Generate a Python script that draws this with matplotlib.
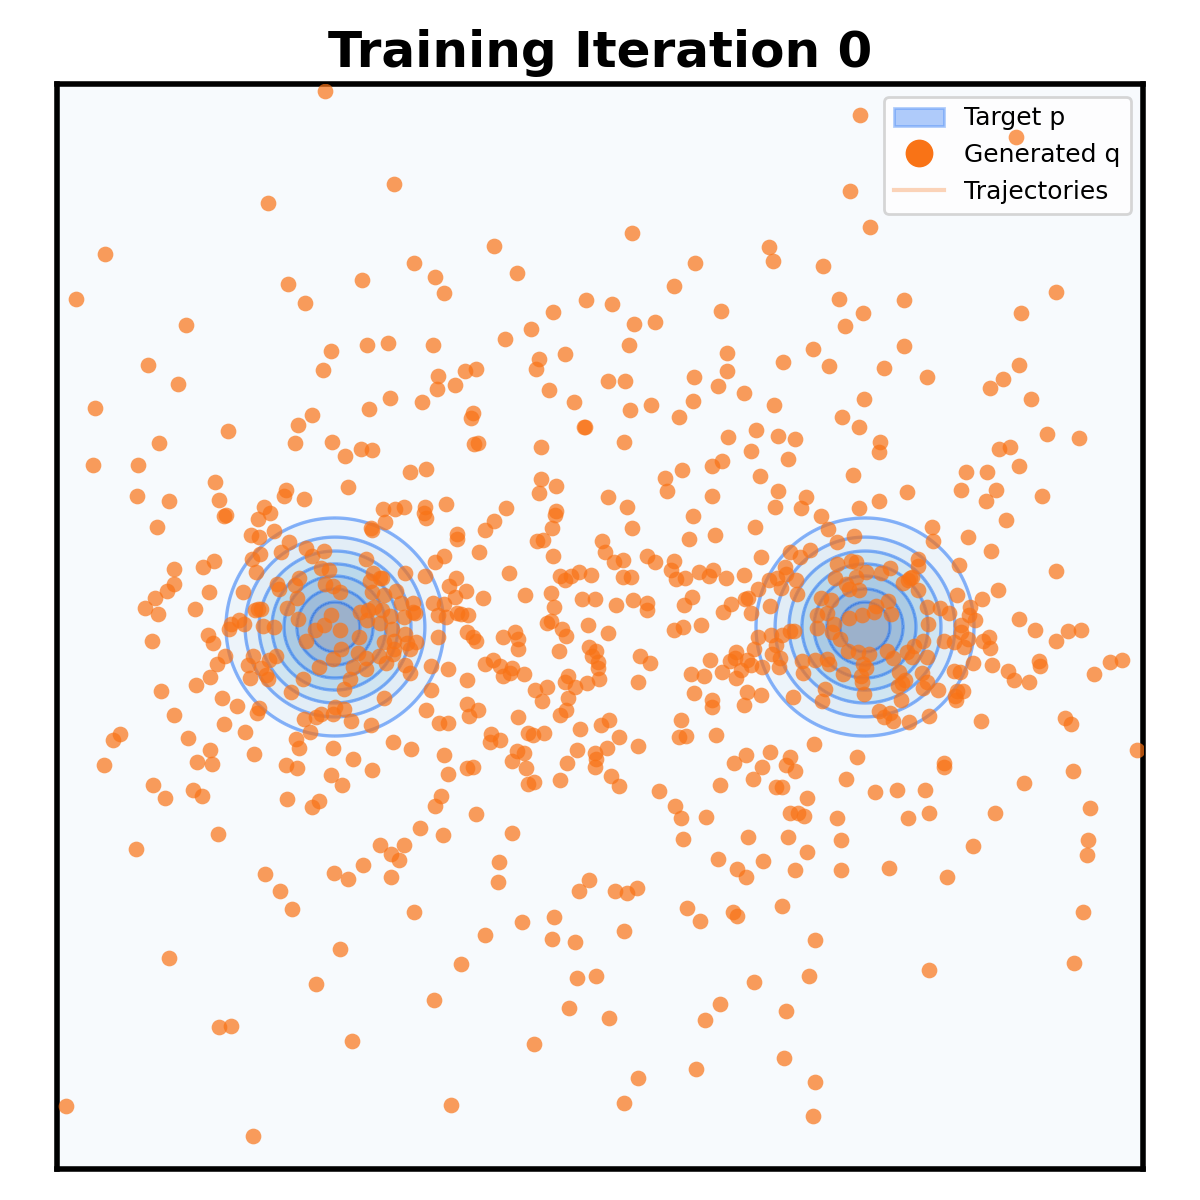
import matplotlib
matplotlib.use('Agg')
import matplotlib.pyplot as plt
import numpy as np
from matplotlib.lines import Line2D
from matplotlib.patches import Patch

# Generated samples (x, y in image pixels, y going down)
q_top = [(325,91),(394,184),(268,203),(105,254),(414,263),(362,280),(288,284),(305,303),(76,299),(186,325),
    (367,345),(388,343),(331,351),(323,370),(148,365),(178,384),(390,398),(369,409),(95,408),(312,415),
    (298,425),(228,431),(159,443),(295,443),(332,442),(494,246),(632,233),(435,277),(444,293),(517,273),
    (769,247),(773,261),(695,263),(674,286),(586,300),(612,304),(721,311),(553,312),(634,324),(655,322),
    (531,329),(505,339),(433,345),(629,345),(727,353),(565,354),(539,359),(536,369),(465,371),(476,369),
    (438,376),(727,371),(694,377),(608,381),(625,381),(718,386),(455,385),(437,389),(744,393),(549,390),
    (422,402),(574,402),(693,401),(651,405),(630,410),(774,405),(473,413),(471,418),(679,417),(585,427),
    (584,427),(756,430),(728,437),(778,436),(624,442),(474,444),(478,443),(541,447),(860,115),(1016,137),
    (850,191),(870,227),(823,266),(1056,292),(839,299),(904,300),(863,313),(1021,313),(845,326),(813,349),
    (904,346),(783,362),(829,366),(884,368),(927,377),(1019,365),(1003,379),(990,388),(864,399),(1031,399),
    (842,417),(859,427),(795,439),(880,442),(1047,434),(1079,438)]

q_left = [(361,449),(372,450),(93,465),(138,465),(345,456),(410,472),(215,482),(348,487),(137,496),(169,501),
    (286,490),(284,496),(304,499),(219,500),(264,507),(270,513),(258,519),(226,515),(224,516),(383,509),
    (395,509),(404,507),(385,522),(157,527),(372,530),(371,528),(274,531),(251,535),(259,537),(289,542),
    (260,554),(252,559),(281,552),(306,548),(312,556),(324,551),(366,559),(214,561),(203,567),(174,569),
    (256,572),(321,568),(329,570),(405,573),(373,573),(380,578),(382,578),(370,581),(299,578),(174,584),
    (167,591),(277,584),(279,589),(295,585),(325,584),(333,586),(340,592),(372,592),(384,595),(396,591),
    (209,592),(243,592),(155,598),(297,598),(401,603),(413,603),(145,608),(158,614),(195,609),(255,610),
    (261,609),(258,609),(287,608),(360,612),(368,610),(374,607),(382,610),(390,616),(404,617),(413,612),
    (415,613),(331,615),(298,619),(367,620),(380,623),(239,620),(244,624),(231,624),(229,629),(263,626),
    (274,627),(324,625),(315,630),(340,630),(392,629),(208,635),(213,643),(152,641),(359,637),(306,641),
    (405,634),(384,642),(394,641),(407,643),(410,649),(416,642),(341,649),(358,653),(394,649),(393,654),
    (379,656),(366,658),(333,659),(225,656),(253,656),(276,656),(269,660),(248,665),(261,668),(217,664),
    (319,667),(353,667),(366,669),(386,663),(405,665),(410,673),(266,675),(268,679),(250,678),(210,677),
    (196,685),(303,679),(350,679),(344,689),(161,691),(291,692),(384,698),(222,698),(237,706),(174,715),
    (259,708),(257,713),(335,707),(344,709),(321,714),(316,717),(333,714),(304,719),(351,721),(371,725),
    (224,724),(245,732),(310,732),(188,738),(120,734),(113,740),(296,739),(299,748),(333,748),(393,742),
    (411,749),(210,750),(254,754),(353,759),(197,762),(212,764),(104,765),(286,765),(297,768),(372,770),
    (331,775),(342,785),(153,785),(193,790),(202,796),(165,798),(287,799),(319,801),(312,807)]

q_middle = [(426,469),(541,479),(556,486),(539,493),(446,504),(425,507),(424,513),(426,518),(506,508),(556,511),
    (555,515),(494,521),(485,530),(552,528),(457,534),(457,539),(537,541),(543,540),(479,552),(553,556),
    (444,556),(435,562),(509,573),(560,576),(565,580),(571,576),(579,572),(591,575),(425,576),(456,578),
    (449,586),(466,591),(455,597),(483,598),(525,595),(551,593),(433,603),(444,604),(582,599),(595,599),
    (554,607),(457,613),(438,615),(446,617),(461,614),(468,615),(551,621),(547,623),(588,625),(562,629),
    (566,636),(608,633),(467,632),(515,632),(503,637),(518,639),(438,637),(473,637),(476,641),(518,649),
    (589,647),(596,651),(559,651),(592,656),(598,662),(598,668),(493,660),(485,664),(500,666),(512,668),
    (431,666),(448,669),(510,673),(503,676),(524,674),(568,676),(565,682),(599,679),(587,683),(575,687),
    (467,680),(547,687),(535,690),(431,690),(568,698),(542,701),(467,704),(426,710),(478,710),(469,716),
    (566,710),(560,715),(518,717),(439,723),(448,723),(609,720),(601,725),(580,729),(528,733),(533,735),
    (544,733),(491,734),(500,740),(490,742),(619,737),(607,748),(638,746),(517,751),(524,753),(577,750),
    (444,755),(595,753),(596,759),(595,767),(512,761),(567,763),(526,768),(467,768),(473,767),(448,774),
    (611,776),(560,780),(534,782),(528,784),(619,786),(441,796),(435,806),(659,791),(675,806)]

q_inner_right = [(751,451),(722,461),(712,466),(682,470),(665,478),(667,491),(760,476),(712,496),(608,497),(627,507),
    (775,507),(778,491),(693,516),(755,527),(632,528),(715,535),(689,539),(602,541),(605,552),(614,562),
    (623,560),(647,556),(655,562),(761,557),(674,561),(671,570),(676,579),(685,578),(699,572),(713,570),
    (709,576),(726,578),(744,575),(623,577),(631,577),(769,580),(758,589),(692,597),(684,605),(633,600),
    (647,603),(647,610),(616,605),(748,598),(745,599),(731,604),(723,612),(751,613),(770,606),(701,625),
    (683,627),(674,630),(758,637),(771,635),(754,649),(772,654),(736,652),(735,658),(730,661),(710,660),
    (640,656),(650,663),(747,660),(751,665),(741,670),(762,667),(722,672),(691,674),(704,676),(736,678),
    (638,682),(694,693),(712,700),(712,707),(747,692),(761,695),(744,705),(681,720),(679,737),(686,736),
    (716,735),(746,755),(770,752),(734,763),(762,767),(753,779),(720,785),(776,787),(776,645)]

q_right = [(788,459),(879,452),(853,475),(966,472),(987,472),(1019,466),(999,449),(1010,447),(806,497),(801,508),
    (907,492),(879,501),(859,508),(961,490),(996,490),(986,501),(1042,496),(821,516),(828,529),(1006,520),
    (932,527),(933,541),(968,537),(854,536),(837,542),(991,551),(790,552),(800,557),(810,550),(918,559),
    (918,566),(959,565),(1056,571),(837,564),(851,561),(856,562),(785,567),(786,574),(890,568),(866,572),
    (881,573),(856,577),(835,578),(912,577),(910,578),(908,580),(903,583),(796,580),(777,578),(781,588),
    (846,584),(849,589),(859,590),(918,590),(797,594),(998,590),(957,595),(821,598),(831,600),(888,601),
    (982,599),(876,606),(927,607),(940,608),(970,607),(949,613),(969,615),(975,620),(1019,619),(874,612),
    (891,614),(862,615),(849,618),(817,615),(827,613),(834,624),(817,628),(832,632),(928,624),(961,625),
    (961,632),(1035,630),(1068,631),(1081,630),(1056,641),(989,637),(983,641),(990,648),(968,639),(964,647),
    (954,642),(944,641),(923,641),(914,646),(907,652),(912,657),(887,651),(893,658),(869,654),(858,652),
    (848,651),(840,639),(794,631),(790,631),(782,635),(927,657),(973,663),(992,665),(1039,661),(1040,666),
    (1122,660),(1110,662),(1094,674),(1008,671),(1014,680),(1029,682),(802,661),(815,660),(827,659),(829,664),
    (780,658),(779,667),(803,673),(843,674),(863,664),(866,668),(861,676),(862,682),(899,672),(922,673),
    (954,671),(960,672),(905,680),(902,683),(898,686),(927,682),(923,688),(825,689),(864,694),(938,690),
    (963,691),(957,691),(955,696),(956,700),(793,697),(822,701),(901,700),(879,711),(890,713),(884,717),
    (893,721),(909,722),(929,716),(981,721),(1065,718),(1071,724),(1137,750),(814,744),(857,757),(944,763),
    (944,767),(790,757),(786,765),(795,771),(1073,771),(846,779),(782,787),(1024,783),(875,792),(897,790),
    (925,790),(807,798)]

q_bottom = [(218,834),(136,849),(380,845),(404,845),(391,854),(399,860),(363,865),(334,873),(348,879),(391,877),
    (265,874),(280,891),(292,909),(414,912),(340,949),(169,958),(316,984),(219,1027),(231,1026),(352,1041),
    (66,1106),(253,1136),(476,814),(420,828),(443,835),(512,833),(499,862),(498,882),(589,880),(579,891),
    (615,891),(627,893),(637,888),(554,917),(522,922),(485,935),(552,939),(575,942),(624,931),(461,964),
    (577,978),(596,976),(434,1000),(569,1008),(609,1018),(534,1044),(638,1078),(624,1103),(451,1105),(681,818),
    (706,817),(683,839),(748,837),(718,859),(737,869),(763,861),(746,877),(687,908),(700,921),(733,912),
    (737,916),(754,982),(720,1004),(705,1020),(696,1069),(790,813),(798,813),(804,816),(837,818),(908,818),
    (929,813),(995,813),(1090,808),(788,837),(841,840),(973,846),(1088,840),(1087,855),(807,852),(795,870),
    (841,870),(889,868),(947,877),(782,906),(1083,912),(815,940),(929,970),(1074,963),(809,976),(786,1011),
    (784,1058),(815,1082),(813,1116)]

# Target mixture and contour levels
mode_x = [335, 865]
mode_y = 627
mode_sigma = 53
peak = 0.497
contour_levels = [0, 0.06, 0.118, 0.178, 0.245, 0.313, 0.384, 0.445, 0.497]

blue = '#3b82f6'
orange = '#f97316'

q = np.array(q_top + q_left + q_middle + q_inner_right + q_right + q_bottom)

fig = plt.figure(figsize=(6, 6), dpi=200)
ax = fig.add_axes([57/1200, 31/1200, 1086/1200, 1085/1200])

# Density of p on a grid
gx, gy = np.meshgrid(np.linspace(57, 1143, 400), np.linspace(84, 1169, 400))
density = sum(peak * np.exp(-((gx - m)**2 + (gy - mode_y)**2) / (2 * mode_sigma**2)) for m in mode_x)

ax.contourf(gx, gy, density, levels=contour_levels, cmap='Blues', alpha=0.4)
ax.contour(gx, gy, density, levels=contour_levels[1:-1], colors=blue, alpha=0.6, linewidths=1.2)
# above the legend too: the sample at the top right shows at full strength over the frame
ax.scatter(q[:, 0], q[:, 1], s=32, color=orange, alpha=0.7, linewidths=0, zorder=6)

ax.set_xlim(57, 1143)
ax.set_ylim(1169, 84)
ax.set_xticks([])
ax.set_yticks([])
for spine in ax.spines.values():
    spine.set_linewidth(2)
ax.set_title('Training Iteration 0', fontsize=18, fontweight='bold')

handles = [
    Patch(facecolor=blue, edgecolor=blue, alpha=0.4, label='Target p'),
    Line2D([], [], marker='o', linestyle='none', color=orange, markersize=9, label='Generated q'),
    Line2D([], [], color=orange, alpha=0.3, linewidth=1.5, label='Trajectories'),
]
ax.legend(handles=handles, loc='upper right', fontsize=9)

fig.savefig('out.png', dpi=200)
